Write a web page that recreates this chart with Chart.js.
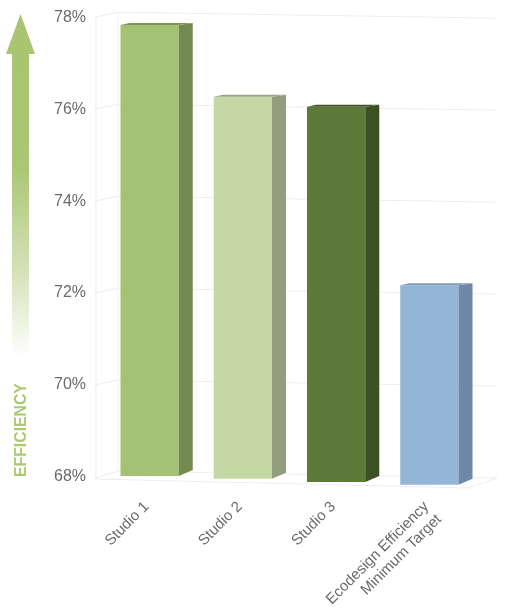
<!DOCTYPE html>
<html>
<head>
<meta charset="utf-8">
<style>
html,body{margin:0;padding:0;background:#fff;}
canvas{display:block;filter:blur(0.45px);}
</style>
<script src="https://cdn.jsdelivr.net/npm/chart.js@4"></script>
</head>
<body>
<canvas id="c" width="506" height="613"></canvas>
<script>
const categories = ['Studio 1', 'Studio 2', 'Studio 3', ['Ecodesign Efficiency', 'Minimum Target']];
const efficiency = [77.83, 76.27, 76.05, 72.17];
const perspectiveBase = [68.02, 67.96, 67.89, 67.83];
const yTickValues = [68, 70, 72, 74, 76, 78];
const frontColors = ['#a3c274', '#c3d8a4', '#5d7a3b', '#94b6d6'];
const sideColors = ['#728a50', '#919f7f', '#3d4f24', '#6d89a6'];
const topColors = ['#7f955f', '#98a78a', '#43562a', '#7d9ab8'];

const wallPlugin = {
  id: 'wall',
  beforeDatasetsDraw(chart) {
    const ctx = chart.ctx, y = chart.scales.y;
    ctx.save();
    ctx.strokeStyle = '#eeecef';
    ctx.lineWidth = 1;
    yTickValues.forEach(v => {
      const p = y.getPixelForValue(v);
      ctx.beginPath();
      if (v === 68) {
        ctx.moveTo(95, p + 1); ctx.lineTo(118, p - 6); ctx.lineTo(497, p + 1);
        ctx.moveTo(95, p + 2); ctx.lineTo(468, p + 11); ctx.lineTo(497, p + 1);
      } else {
        ctx.moveTo(95, p); ctx.lineTo(118, p - 5); ctx.lineTo(497, p + 1);
      }
      ctx.stroke();
    });
    const top = y.getPixelForValue(78), bot = y.getPixelForValue(68);
    ctx.beginPath();
    ctx.moveTo(96, top); ctx.lineTo(96, bot + 2);
    ctx.stroke();
    ctx.strokeStyle = '#f6f5f7';
    ctx.beginPath();
    ctx.moveTo(118, top - 6); ctx.lineTo(118, bot - 6);
    ctx.stroke();
    ctx.restore();
  }
};

const bar3dPlugin = {
  id: 'bar3d',
  afterDatasetsDraw(chart) {
    const ctx = chart.ctx;
    const dx = 14, dyBase = 6, dyTop = 2;
    chart.getDatasetMeta(0).data.forEach((b, i) => {
      const r = b.x + b.width / 2, l = b.x - b.width / 2;
      ctx.save();
      ctx.fillStyle = sideColors[i];
      ctx.beginPath();
      ctx.moveTo(r, b.y); ctx.lineTo(r + dx, b.y - dyTop);
      ctx.lineTo(r + dx, b.base - dyBase); ctx.lineTo(r, b.base);
      ctx.closePath(); ctx.fill();
      ctx.fillStyle = topColors[i];
      ctx.beginPath();
      ctx.moveTo(l, b.y); ctx.lineTo(l + 9, b.y - dyTop);
      ctx.lineTo(r + dx, b.y - dyTop); ctx.lineTo(r, b.y);
      ctx.closePath(); ctx.fill();
      ctx.restore();
    });
  }
};

const arrowPlugin = {
  id: 'arrow',
  afterDraw(chart) {
    const ctx = chart.ctx;
    ctx.save();
    const g = ctx.createLinearGradient(0, 14, 0, 358);
    g.addColorStop(0, '#a8c46f');
    g.addColorStop(0.45, '#abc775');
    g.addColorStop(0.75, '#d5e2b8');
    g.addColorStop(1, '#ffffff');
    ctx.fillStyle = g;
    ctx.beginPath();
    ctx.moveTo(20.5, 14); ctx.lineTo(35, 54); ctx.lineTo(29, 54);
    ctx.lineTo(29, 358); ctx.lineTo(12, 358); ctx.lineTo(12, 54);
    ctx.lineTo(6, 54); ctx.closePath(); ctx.fill();
    ctx.translate(26, 477);
    ctx.rotate(-Math.PI / 2);
    ctx.fillStyle = '#abc96f';
    ctx.font = 'bold 15.8px "Liberation Sans"';
    ctx.textAlign = 'left';
    ctx.textBaseline = 'alphabetic';
    ctx.fillText('EFFICIENCY', 0, 0);
    ctx.restore();
  }
};

function pinMargins(s) {
  s.paddingTop = 0; s.paddingBottom = 0; s.paddingLeft = 0; s.paddingRight = 0;
}

new Chart(document.getElementById('c'), {
  type: 'bar',
  data: {
    labels: categories,
    datasets: [{
      data: efficiency.map((v, i) => [perspectiveBase[i], v]),
      backgroundColor: frontColors,
      borderWidth: 0,
      barPercentage: 0.625,
      categoryPercentage: 1
    }]
  },
  options: {
    responsive: false,
    animation: false,
    layout: { padding: { top: 8, right: 30, left: 0, bottom: 0 } },
    plugins: { legend: { display: false }, tooltip: { enabled: false } },
    scales: {
      x: {
        grid: { display: false },
        border: { display: false },
        afterFit(s) { s.height = 113; pinMargins(s); },
        ticks: {
          maxRotation: 45, minRotation: 45, padding: -10, labelOffset: -3, autoSkip: false,
          color: '#6a6a6a',
          font: { family: '"Liberation Sans"', size: 15, lineHeight: 1.2 }
        }
      },
      y: {
        min: 67.5, max: 78.2,
        grid: { display: false },
        border: { display: false },
        afterFit(s) { s.width = 103; pinMargins(s); },
        afterBuildTicks(s) { s.ticks = yTickValues.map(value => ({ value })); },
        ticks: {
          padding: 9,
          color: '#6a6a6a',
          font: { family: '"Liberation Sans"', size: 16 },
          callback: v => v + '%'
        }
      }
    }
  },
  plugins: [wallPlugin, bar3dPlugin, arrowPlugin]
});
</script>
</body>
</html>
